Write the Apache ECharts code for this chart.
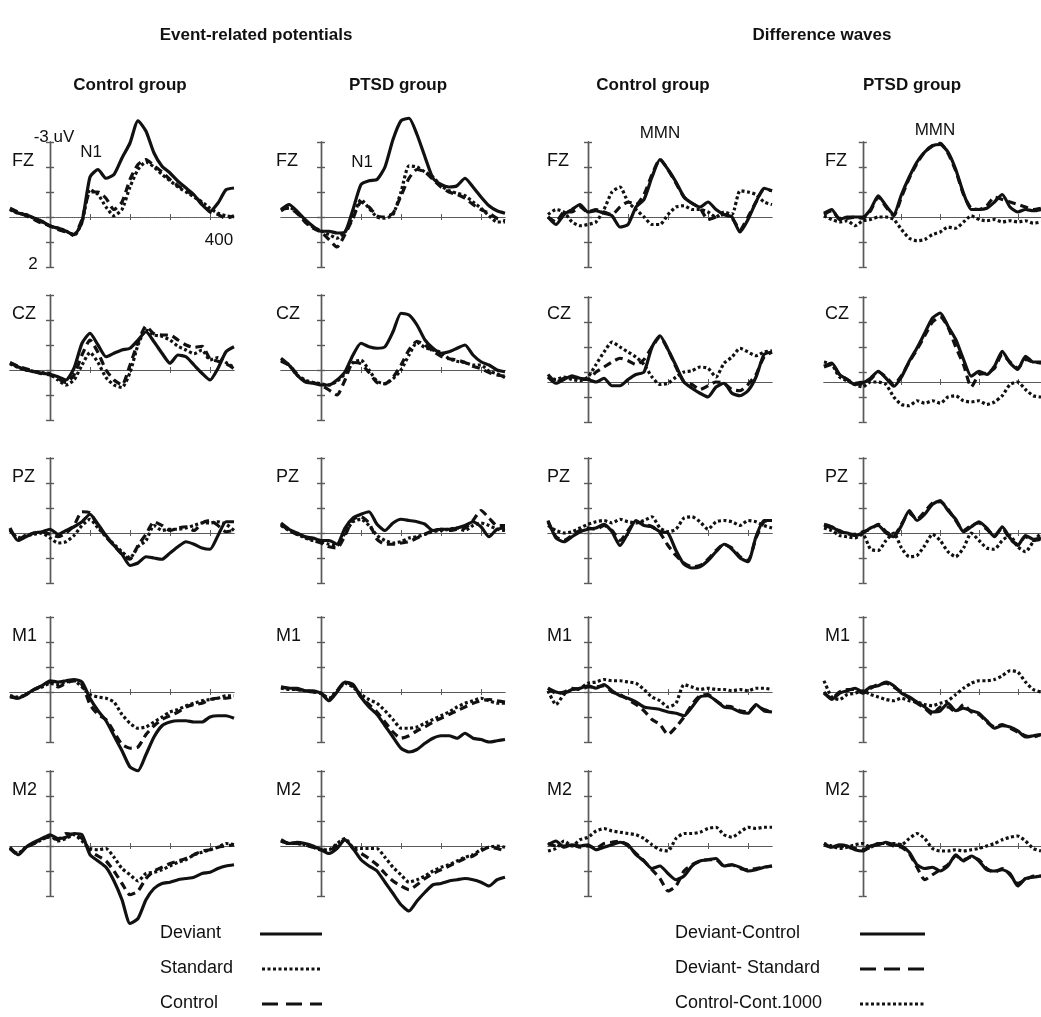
<!DOCTYPE html>
<html lang="en">
<head>
<meta charset="utf-8">
<title>Event-related potentials and difference waves</title>
<script src="https://cdn.jsdelivr.net/npm/echarts@6/dist/echarts.min.js"></script>
<style>
  body { margin: 0; background: #fff; }
  #main { width: 1041px; height: 1017px; }
</style>
</head>
<body>
<div id="main"></div>
<script>
  // time in ms, amplitude in uV (negative drawn upward)
  var times = [-100, -80, -60, -40, -20, 0, 20, 40, 60, 80, 100, 120, 140, 160, 180, 200, 220, 240, 260, 280, 300, 320, 340, 360, 380, 400, 420, 440, 460];

  // ---- Event-related potentials, control group ----
  var fzCtlDev = [-0.32, -0.16, -0.09, 0.04, 0.17, 0.37, 0.44, 0.57, 0.71, 0.2, -1.6, -1.9, -1.55, -1.7, -2.36, -2.96, -3.85, -3.43, -2.56, -2.03, -1.76, -1.43, -1.16, -0.89, -0.49, -0.23, -0.56, -1.09, -1.16];
  var fzCtlStd = [-0.3, -0.15, -0.1, 0.05, 0.2, 0.35, 0.45, 0.55, 0.75, 0.2, -1.1, -0.9, -0.4, -0.05, -0.3, -1.2, -1.9, -2.2, -2.0, -1.7, -1.45, -1.2, -1.0, -0.8, -0.6, -0.35, -0.15, -0.05, 0.0];
  var fzCtlCon = [-0.35, -0.2, -0.05, 0.1, 0.25, 0.35, 0.5, 0.6, 0.7, 0.1, -1.0, -1.0, -0.75, -0.3, -0.6, -1.5, -2.1, -2.3, -2.05, -1.8, -1.5, -1.25, -1.05, -0.85, -0.55, -0.2, -0.1, 0.05, -0.05];
  var czCtlDev = [-0.27, -0.13, 0.0, 0.07, 0.13, 0.17, 0.27, 0.4, -0.07, -1.07, -1.47, -1.0, -0.53, -0.67, -0.8, -0.87, -1.2, -1.53, -1.13, -0.67, -0.27, -0.6, -0.53, -0.2, 0.13, 0.4, -0.07, -0.73, -0.93];
  var czCtlStd = [-0.25, -0.1, 0.0, 0.05, 0.1, 0.15, 0.4, 0.6, 0.4, -0.2, -0.7, -0.3, 0.3, 0.6, 0.7, 0.1, -1.0, -1.6, -1.4, -1.35, -1.2, -0.95, -0.8, -0.65, -0.8, -0.4, -0.5, -0.3, -0.1];
  var czCtlCon = [-0.3, -0.15, -0.05, 0.05, 0.15, 0.2, 0.35, 0.5, 0.2, -0.6, -1.2, -0.7, 0.0, 0.4, 0.6, -0.2, -1.1, -1.75, -1.45, -1.4, -1.4, -1.2, -1.0, -0.9, -0.95, -0.45, -0.35, -0.25, -0.05];
  var pzCtlDev = [-0.2, 0.3, 0.15, 0.0, -0.05, -0.15, 0.05, -0.1, -0.25, -0.45, -0.75, -0.35, 0.1, 0.5, 0.85, 1.3, 1.2, 0.95, 1.0, 1.05, 0.8, 0.55, 0.35, 0.45, 0.6, 0.65, 0.1, -0.45, -0.45];
  var pzCtlStd = [-0.1, 0.2, 0.1, 0.05, 0.0, 0.2, 0.4, 0.35, 0.1, -0.3, -0.55, -0.2, 0.15, 0.45, 0.75, 1.0, 0.55, 0.3, -0.3, -0.1, -0.15, -0.15, -0.2, -0.3, -0.4, -0.4, -0.45, -0.35, -0.1];
  var pzCtlCon = [-0.15, 0.25, 0.1, 0.0, -0.05, 0.05, 0.15, 0.0, -0.3, -0.85, -0.8, -0.3, 0.15, 0.5, 0.85, 1.05, 0.5, 0.05, -0.45, -0.3, -0.1, -0.2, -0.25, -0.1, -0.4, -0.5, -0.3, -0.05, -0.1];
  var m1CtlDev = [0.15, 0.25, 0.1, -0.1, -0.25, -0.45, -0.4, -0.45, -0.5, -0.4, 0.25, 0.75, 1.15, 1.75, 2.35, 3.0, 3.15, 2.5, 1.8, 1.35, 1.2, 1.15, 1.15, 1.2, 1.2, 1.0, 0.95, 0.95, 1.05];
  var m1CtlStd = [0.15, 0.2, 0.1, -0.1, -0.2, -0.35, -0.3, -0.4, -0.45, -0.2, 0.1, 0.2, 0.25, 0.4, 0.9, 1.25, 1.45, 1.4, 1.2, 1.0, 0.8, 0.7, 0.55, 0.45, 0.35, 0.3, 0.25, 0.15, 0.15];
  var m1CtlCon = [0.2, 0.25, 0.1, -0.1, -0.25, -0.4, -0.2, -0.35, -0.45, -0.3, 0.5, 0.9, 1.1, 1.6, 2.1, 2.25, 2.2, 1.7, 1.35, 1.1, 0.95, 0.8, 0.6, 0.5, 0.45, 0.3, 0.25, 0.25, 0.2];
  var m2CtlDev = [0.05, 0.35, 0.05, -0.15, -0.3, -0.45, -0.3, -0.35, -0.5, -0.45, 0.35, 0.6, 0.85, 1.4, 2.15, 3.1, 2.9, 2.15, 1.7, 1.5, 1.45, 1.35, 1.3, 1.25, 1.1, 1.05, 0.9, 0.8, 0.75];
  var m2CtlStd = [0.1, 0.3, 0.05, -0.1, -0.25, -0.4, -0.2, -0.3, -0.45, -0.2, 0.1, 0.15, 0.1, 0.45, 0.9, 1.15, 1.4, 1.1, 1.05, 0.95, 0.8, 0.65, 0.55, 0.35, 0.25, 0.15, 0.05, -0.1, -0.05];
  var m2CtlCon = [0.1, 0.35, 0.05, -0.1, -0.3, -0.35, -0.25, -0.5, -0.45, -0.3, 0.2, 0.4, 0.6, 1.0, 1.5, 1.95, 1.8, 1.3, 1.0, 0.85, 0.7, 0.6, 0.5, 0.35, 0.2, 0.15, 0.05, 0.0, -0.05];

  // ---- Event-related potentials, PTSD group ----
  var fzPtsDev = [-0.3, -0.5, -0.23, 0.1, 0.37, 0.57, 0.57, 0.64, 0.6, -0.3, -1.3, -1.45, -1.5, -2.0, -3.1, -3.85, -3.95, -3.3, -2.4, -1.55, -1.3, -1.2, -1.25, -1.55, -1.2, -0.8, -0.45, -0.25, -0.15];
  var fzPtsStd = [-0.25, -0.4, -0.2, 0.15, 0.4, 0.55, 0.7, 0.85, 0.6, 0.0, -0.7, -0.35, 0.0, 0.05, -0.1, -1.0, -2.05, -2.0, -1.8, -1.6, -1.25, -1.05, -0.95, -0.85, -0.6, -0.35, -0.05, 0.2, 0.2];
  var fzPtsCon = [-0.3, -0.35, -0.15, 0.2, 0.45, 0.6, 0.9, 1.2, 0.7, 0.05, -0.6, -0.4, -0.05, 0.0, -0.15, -0.85, -1.55, -1.9, -1.8, -1.5, -1.2, -1.0, -0.9, -0.75, -0.5, -0.3, -0.15, 0.05, 0.15];
  var czPtsDev = [-0.47, -0.2, 0.2, 0.47, 0.53, 0.6, 0.6, 0.4, 0.07, -0.6, -1.07, -0.93, -0.87, -0.93, -1.53, -2.27, -2.2, -1.8, -1.2, -0.87, -0.67, -0.73, -0.87, -1.0, -0.6, -0.33, -0.2, 0.0, 0.07];
  var czPtsStd = [-0.4, -0.2, 0.2, 0.4, 0.5, 0.55, 0.6, 0.45, 0.15, -0.3, -0.4, 0.0, 0.45, 0.55, 0.35, 0.0, -0.6, -1.1, -0.9, -0.8, -0.7, -0.45, -0.35, -0.3, -0.2, -0.2, 0.05, 0.15, 0.3];
  var czPtsCon = [-0.35, -0.2, 0.15, 0.45, 0.5, 0.6, 0.8, 1.0, 0.4, -0.3, -0.25, 0.1, 0.5, 0.55, 0.3, -0.2, -0.8, -1.15, -1.0, -0.75, -0.55, -0.45, -0.4, -0.3, -0.15, -0.05, 0.1, 0.2, 0.25];
  var pzPtsDev = [-0.4, -0.15, 0.0, 0.15, 0.2, 0.3, 0.3, 0.45, -0.2, -0.6, -0.75, -0.85, -0.35, -0.1, -0.4, -0.55, -0.5, -0.45, -0.35, -0.1, -0.15, -0.15, -0.2, -0.3, -0.45, -0.25, 0.15, -0.15, -0.2];
  var pzPtsStd = [-0.3, -0.1, 0.05, 0.2, 0.3, 0.35, 0.45, 0.5, 0.0, -0.45, -0.55, -0.3, 0.1, 0.3, 0.4, 0.35, 0.2, 0.15, 0.05, -0.05, -0.1, -0.15, -0.2, -0.1, -0.3, -0.4, -0.3, -0.15, -0.1];
  var pzPtsCon = [-0.35, -0.1, 0.05, 0.15, 0.3, 0.4, 0.55, 0.6, 0.1, -0.55, -0.65, -0.4, 0.25, 0.45, 0.45, 0.4, 0.35, 0.2, 0.05, -0.1, -0.15, -0.1, -0.15, -0.2, -0.5, -0.9, -0.6, -0.3, -0.3];
  var m1PtsDev = [-0.2, -0.15, -0.15, -0.05, -0.05, 0.05, 0.35, 0.0, -0.4, -0.3, 0.2, 0.6, 0.9, 1.35, 1.8, 2.25, 2.4, 2.3, 2.05, 1.85, 1.75, 1.75, 1.85, 1.65, 1.85, 1.9, 2.0, 1.95, 1.9];
  var m1PtsStd = [-0.15, -0.1, -0.1, -0.05, 0.0, 0.05, 0.25, -0.05, -0.35, -0.2, 0.1, 0.3, 0.45, 0.75, 1.1, 1.45, 1.45, 1.4, 1.25, 1.1, 0.95, 0.8, 0.6, 0.45, 0.35, 0.25, 0.35, 0.45, 0.45];
  var m1PtsCon = [-0.2, -0.15, -0.1, -0.05, 0.0, 0.05, 0.3, -0.05, -0.4, -0.25, 0.2, 0.5, 0.8, 1.2, 1.6, 1.85, 1.75, 1.55, 1.4, 1.2, 1.05, 0.9, 0.75, 0.6, 0.45, 0.35, 0.3, 0.35, 0.4];
  var m2PtsDev = [-0.25, -0.1, -0.15, -0.1, 0.0, 0.15, 0.3, 0.1, -0.25, 0.1, 0.55, 0.8, 1.0, 1.45, 1.9, 2.35, 2.6, 2.2, 1.85, 1.55, 1.5, 1.4, 1.35, 1.3, 1.35, 1.45, 1.6, 1.35, 1.25];
  var m2PtsStd = [-0.2, -0.1, -0.1, -0.05, 0.05, 0.15, 0.15, -0.1, -0.3, 0.05, 0.1, 0.1, 0.1, 0.45, 0.85, 1.15, 1.45, 1.35, 1.2, 1.0, 0.85, 0.75, 0.6, 0.45, 0.35, 0.15, 0.05, 0.0, 0.05];
  var m2PtsCon = [-0.2, -0.1, -0.1, -0.05, 0.05, 0.15, 0.2, -0.05, -0.25, 0.1, 0.3, 0.5, 0.75, 1.1, 1.4, 1.6, 1.75, 1.55, 1.3, 1.1, 0.95, 0.8, 0.65, 0.5, 0.4, 0.2, 0.05, 0.1, 0.2];

  // ---- Difference waves, control group (DC = deviant-control, DS = deviant-standard, CC = control-cont.1000) ----
  var fzCtlDC = [0.0, 0.3, -0.1, -0.3, -0.5, -0.2, -0.25, -0.15, -0.05, 0.4, 0.3, -0.4, -0.7, -1.6, -2.3, -1.9, -1.4, -0.8, -0.55, -0.4, -0.6, -0.3, -0.1, 0.0, 0.6, 0.1, -0.6, -1.15, -1.05];
  var fzCtlDS = [0.0, 0.2, -0.2, -0.2, -0.4, -0.2, -0.3, -0.2, -0.1, -0.4, -0.6, -0.5, -0.9, -1.7, -2.3, -1.9, -1.35, -0.8, -0.55, -0.35, 0.1, 0.0, -0.1, 0.05, 0.5, 0.0, -0.6, -1.1, -1.05];
  var fzCtlCC = [-0.1, -0.3, -0.2, 0.2, 0.35, 0.3, 0.2, -0.3, -1.0, -1.2, -0.6, -0.3, 0.0, 0.3, 0.3, -0.1, -0.4, -0.45, -0.3, -0.3, -0.2, 0.0, -0.2, -0.1, -1.05, -1.0, -0.9, -0.6, -0.5];
  var czCtlDC = [-0.2, 0.05, -0.1, -0.25, -0.15, -0.1, 0.0, -0.15, 0.15, 0.15, -0.1, -0.3, -0.4, -1.4, -1.85, -1.3, -0.65, 0.0, 0.25, 0.45, 0.6, 0.2, 0.05, 0.45, 0.55, 0.35, -0.2, -1.1, -1.2];
  var czCtlDS = [-0.3, 0.0, -0.15, -0.2, -0.1, -0.1, -0.4, -0.6, -0.8, -0.95, -0.85, -0.7, -0.9, -1.4, -1.8, -1.3, -0.6, 0.0, 0.1, 0.3, 0.15, 0.0, 0.05, 0.3, 0.35, 0.1, -0.3, -1.0, -1.2];
  var czCtlCC = [-0.2, -0.1, -0.2, -0.1, -0.05, -0.2, -0.7, -1.2, -1.6, -1.4, -1.2, -1.0, -0.7, -0.2, 0.1, 0.05, -0.2, -0.4, -0.45, -0.6, -0.55, -0.2, -0.75, -1.0, -1.35, -1.2, -1.05, -1.2, -1.25];
  var pzCtlDC = [-0.5, 0.2, 0.35, 0.15, -0.05, -0.15, -0.2, -0.35, -0.05, 0.5, 0.0, -0.5, -0.3, -0.25, -0.05, 0.0, 0.7, 1.25, 1.4, 1.35, 1.1, 0.75, 0.45, 0.65, 1.0, 1.15, 0.15, -0.5, -0.5];
  var pzCtlDS = [-0.45, 0.15, 0.3, 0.1, -0.1, -0.2, -0.15, -0.3, -0.1, 0.3, -0.1, -0.45, -0.35, -0.25, 0.0, 0.5, 0.9, 1.2, 1.35, 1.3, 1.05, 0.7, 0.45, 0.6, 0.95, 1.1, 0.2, -0.45, -0.5];
  var pzCtlCC = [-0.3, -0.1, 0.0, -0.05, -0.2, -0.35, -0.45, -0.5, -0.4, -0.55, -0.45, -0.4, -0.5, -0.65, -0.2, -0.05, -0.15, -0.6, -0.65, -0.45, -0.15, -0.45, -0.5, -0.45, -0.3, -0.5, -0.45, -0.3, -0.2];
  var m1CtlDC = [-0.15, 0.0, 0.05, -0.1, -0.15, -0.25, -0.15, -0.3, -0.05, 0.15, 0.25, 0.4, 0.6, 0.65, 0.7, 0.8, 0.85, 0.95, 0.6, 0.2, 0.15, 0.35, 0.6, 0.65, 0.8, 0.85, 0.5, 0.75, 0.8];
  var m1CtlDS = [-0.15, 0.05, 0.0, -0.15, -0.1, -0.2, -0.2, -0.25, 0.0, 0.1, 0.3, 0.5, 0.75, 1.1, 1.3, 1.7, 1.4, 1.0, 0.5, 0.15, 0.1, 0.35, 0.55, 0.6, 0.75, 0.8, 0.55, 0.7, 0.8];
  var m1CtlCC = [-0.05, 0.5, 0.1, -0.1, -0.15, -0.35, -0.4, -0.5, -0.45, -0.45, -0.4, -0.35, -0.1, 0.2, 0.35, 0.6, 0.45, -0.3, -0.2, -0.1, -0.15, -0.1, -0.1, -0.05, -0.1, -0.05, -0.15, -0.15, -0.1];
  var m2CtlDC = [-0.05, -0.2, 0.05, -0.05, 0.0, -0.05, 0.15, 0.05, -0.05, -0.15, -0.05, 0.35, 0.6, 0.9, 0.8, 1.1, 1.35, 1.2, 0.8, 0.6, 0.55, 0.5, 0.8, 0.75, 0.85, 1.0, 0.95, 0.85, 0.8];
  var m2CtlDS = [-0.1, 0.0, 0.0, -0.05, 0.05, 0.0, 0.1, -0.1, -0.15, -0.2, 0.0, 0.3, 0.6, 0.95, 1.3, 1.8, 1.6, 1.0, 0.75, 0.6, 0.55, 0.55, 0.8, 0.75, 0.9, 0.95, 0.9, 0.85, 0.8];
  var m2CtlCC = [0.2, 0.1, -0.2, 0.0, -0.25, -0.35, -0.6, -0.7, -0.6, -0.55, -0.5, -0.45, -0.3, -0.05, 0.15, 0.2, -0.3, -0.5, -0.5, -0.55, -0.7, -0.75, -0.45, -0.35, -0.55, -0.75, -0.7, -0.75, -0.75];

  // ---- Difference waves, PTSD group ----
  var fzPtsDC = [-0.15, -0.3, 0.1, 0.0, 0.0, 0.0, -0.3, -0.85, -0.45, -0.1, -0.9, -1.6, -2.2, -2.6, -2.85, -2.9, -2.6, -1.9, -0.95, -0.3, -0.3, -0.35, -0.6, -0.9, -0.4, -0.2, -0.3, -0.25, -0.3];
  var fzPtsDS = [-0.1, -0.25, 0.05, 0.05, 0.0, 0.05, -0.25, -0.8, -0.4, -0.05, -0.8, -1.55, -2.15, -2.6, -2.85, -2.95, -2.55, -1.85, -0.9, -0.35, -0.3, -0.45, -0.8, -0.7, -0.6, -0.5, -0.4, -0.3, -0.35];
  var fzPtsCC = [-0.05, 0.1, 0.2, 0.15, 0.35, 0.15, 0.1, 0.0, 0.0, 0.1, 0.5, 0.85, 0.95, 0.9, 0.7, 0.6, 0.4, 0.45, 0.2, -0.05, 0.1, 0.15, 0.1, 0.2, 0.15, 0.2, 0.15, 0.25, 0.2];
  var czPtsDC = [-0.63, -0.76, -0.3, -0.1, 0.1, 0.04, -0.15, -0.43, -0.15, 0.17, -0.2, -0.83, -1.36, -1.96, -2.56, -2.76, -2.23, -1.7, -0.9, -0.23, -0.43, -0.3, -0.63, -1.23, -0.76, -0.5, -1.03, -0.8, -0.8];
  var czPtsDS = [-0.6, -0.7, -0.3, -0.1, 0.05, 0.0, -0.1, -0.4, -0.2, 0.1, -0.25, -0.8, -1.3, -1.85, -2.4, -2.6, -2.2, -1.4, -0.7, 0.2, -0.3, -0.35, -0.55, -1.1, -0.8, -0.55, -0.9, -0.8, -0.75];
  var czPtsCC = [-0.8, -0.7, -0.2, -0.05, 0.1, 0.2, 0.0, 0.0, 0.1, 0.6, 0.9, 0.95, 0.75, 0.85, 0.75, 0.85, 0.6, 0.55, 0.75, 0.8, 0.75, 0.9, 0.8, 0.55, 0.1, 0.0, 0.3, 0.55, 0.6];
  var pzPtsDC = [-0.35, -0.25, -0.05, 0.0, 0.1, 0.0, -0.2, -0.3, 0.0, 0.15, -0.3, -0.9, -0.5, -0.75, -1.15, -1.3, -0.9, -0.55, -0.05, -0.25, -0.45, -0.2, 0.15, -0.25, 0.2, 0.5, 0.1, 0.25, 0.2];
  var pzPtsDS = [-0.3, -0.2, -0.1, 0.05, 0.05, -0.05, -0.15, -0.35, -0.05, 0.1, -0.35, -0.8, -0.55, -0.85, -1.2, -1.25, -0.95, -0.5, -0.1, -0.3, -0.4, -0.15, 0.1, -0.2, 0.25, 0.45, 0.15, 0.3, 0.25];
  var pzPtsCC = [-0.2, -0.1, 0.1, 0.15, 0.2, 0.05, 0.65, 0.7, 0.3, 0.0, 0.6, 0.95, 0.9, 0.5, 0.05, 0.3, 0.75, 0.95, 0.6, 0.0, 0.3, 0.6, 0.65, 0.3, 0.1, 0.55, 0.75, 0.35, 0.0];
  var m1PtsDC = [0.0, 0.3, 0.05, -0.05, -0.15, 0.0, -0.2, -0.25, -0.4, -0.25, 0.05, 0.2, 0.4, 0.6, 0.8, 0.75, 0.45, 0.75, 0.65, 0.75, 0.85, 1.15, 1.45, 1.35, 1.4, 1.55, 1.8, 1.75, 1.7];
  var m1PtsDS = [0.05, 0.25, 0.0, -0.1, -0.1, 0.05, -0.15, -0.3, -0.35, -0.2, 0.0, 0.25, 0.45, 0.65, 0.9, 0.6, 0.6, 0.8, 0.5, 0.8, 0.9, 1.2, 1.4, 1.3, 1.45, 1.6, 1.75, 1.8, 1.7];
  var m1PtsCC = [-0.45, 0.2, 0.3, 0.1, 0.05, -0.05, 0.1, 0.2, 0.3, 0.35, 0.25, 0.35, 0.4, 0.5, 0.55, 0.45, 0.35, 0.1, -0.15, -0.35, -0.45, -0.45, -0.5, -0.65, -0.85, -0.8, -0.4, -0.1, 0.0];
  var m2PtsDC = [-0.05, 0.05, -0.05, 0.0, 0.15, 0.2, 0.0, -0.05, -0.15, -0.05, 0.0, 0.25, 0.75, 0.9, 0.85, 1.0, 0.8, 0.35, 0.6, 0.4, 0.6, 0.95, 1.0, 0.95, 1.1, 1.6, 1.3, 1.25, 1.2];
  var m2PtsDS = [-0.1, 0.05, 0.0, 0.05, 0.1, 0.15, 0.05, -0.1, -0.1, 0.0, 0.05, 0.3, 0.85, 1.35, 1.15, 0.95, 0.75, 0.4, 0.55, 0.45, 0.55, 0.9, 1.05, 0.9, 1.15, 1.5, 1.35, 1.2, 1.2];
  var m2PtsCC = [-0.1, 0.0, 0.1, 0.05, -0.05, -0.1, 0.05, -0.1, -0.1, -0.1, -0.05, -0.3, -0.5, -0.3, 0.1, 0.2, 0.2, 0.15, 0.2, 0.15, 0.1, 0.0, -0.1, -0.25, -0.35, -0.4, -0.2, 0.1, 0.2];

  var electrodes = ['FZ', 'CZ', 'PZ', 'M1', 'M2'];
  var colTitles = ['Control group', 'PTSD group', 'Control group', 'PTSD group'];
  var erpNames = ['Deviant', 'Standard', 'Control'];
  var diffNames = ['Deviant-Control', 'Deviant- Standard', 'Control-Cont.1000'];

  // [solid, dotted, dashed] for ERPs; [solid, dashed, dotted] for difference waves
  var panelData = [
    [[fzCtlDev, fzCtlStd, fzCtlCon], [fzPtsDev, fzPtsStd, fzPtsCon], [fzCtlDC, fzCtlDS, fzCtlCC], [fzPtsDC, fzPtsDS, fzPtsCC]],
    [[czCtlDev, czCtlStd, czCtlCon], [czPtsDev, czPtsStd, czPtsCon], [czCtlDC, czCtlDS, czCtlCC], [czPtsDC, czPtsDS, czPtsCC]],
    [[pzCtlDev, pzCtlStd, pzCtlCon], [pzPtsDev, pzPtsStd, pzPtsCon], [pzCtlDC, pzCtlDS, pzCtlCC], [pzPtsDC, pzPtsDS, pzPtsCC]],
    [[m1CtlDev, m1CtlStd, m1CtlCon], [m1PtsDev, m1PtsStd, m1PtsCon], [m1CtlDC, m1CtlDS, m1CtlCC], [m1PtsDC, m1PtsDS, m1PtsCC]],
    [[m2CtlDev, m2CtlStd, m2CtlCon], [m2PtsDev, m2PtsStd, m2PtsCon], [m2CtlDC, m2CtlDS, m2CtlCC], [m2PtsDC, m2PtsDS, m2PtsCC]]
  ];

  var DOT = [3, 2.5];
  var DASH = [8, 5];
  var INK = '#111';
  var AXIS = '#5a5a5a';
  var FONT = '"Liberation Sans", Arial, sans-serif';

  var colZero = [50, 321, 588, 864];   // x pixel of t = 0
  var rowTop = [142, 295, 458, 617, 771];
  var pxPerMs = 0.4;

  var grids = [], xAxes = [], yAxes = [], series = [], graphics = [];

  panelData.forEach(function (rowData, r) {
    rowData.forEach(function (lines, c) {
      var g = grids.length;
      // CZ difference panels sit with their baseline a bit lower than the tick at 0
      var shifted = (r === 1 && c >= 2);
      var yMin = shifted ? -3.4 : -3;
      var ticks = shifted ? [-3.4, -2.4, -1.4, -0.4, 0.6, 1.6] : [-3, -2, -1, 0, 1, 2];
      grids.push({
        left: colZero[c] - 100 * pxPerMs,
        top: rowTop[r] + (shifted ? 2 : 0),
        width: 560 * pxPerMs,
        height: 125
      });
      [false, true].forEach(function (inside) {
        xAxes.push({
          gridIndex: g, type: 'value', min: -100, max: 460, position: 'bottom',
          axisLine: { onZero: true, lineStyle: { color: AXIS, width: 1, type: (g === 0 ? 'dotted' : 'solid') } },
          axisTick: { show: true, inside: inside, length: 3, customValues: [100, 200, 300, 400], lineStyle: { color: AXIS } },
          axisLabel: { show: false }, splitLine: { show: false }
        });
        yAxes.push({
          gridIndex: g, type: 'value', inverse: true, min: yMin, max: yMin + 5, position: 'left',
          axisLine: { onZero: true, lineStyle: { color: AXIS, width: 1.4 } },
          axisTick: { show: true, inside: inside, length: 4, customValues: ticks, lineStyle: { color: AXIS, width: 1.4 } },
          axisLabel: { show: false }, splitLine: { show: false }
        });
      });
      var styles = c < 2 ? ['solid', DOT, DASH] : ['solid', DASH, DOT];
      [1, 2, 0].forEach(function (k) {
        series.push({
          type: 'line', xAxisIndex: 2 * g, yAxisIndex: 2 * g,
          data: times.map(function (t, j) { return [t, lines[k][j]]; }),
          symbol: 'none', showSymbol: false, smooth: 0.2, clip: false, silent: true,
          lineStyle: { color: INK, width: 3.2, type: styles[k], cap: 'butt' }
        });
      });
      graphics.push({
        type: 'text', x: [12, 276, 547, 825][c], y: rowTop[r] + 19,
        style: { text: electrodes[r], font: '18px ' + FONT, fill: INK, align: 'left', verticalAlign: 'middle' }
      });
    });
  });

  function txt(s, x, y, font, align) {
    graphics.push({ type: 'text', x: x, y: y, style: { text: s, font: font, fill: INK, align: align || 'center', verticalAlign: 'middle' } });
  }
  function seg(x1, x2, y, dash) {
    graphics.push({ type: 'line', shape: { x1: x1, y1: y, x2: x2, y2: y }, style: { stroke: INK, lineWidth: 3, lineDash: dash } });
  }

  txt('Event-related potentials', 256, 35, 'bold 17px ' + FONT);
  txt('Difference waves', 822, 35, 'bold 17px ' + FONT);
  [130, 398, 653, 912].forEach(function (x, i) { txt(colTitles[i], x, 85, 'bold 17px ' + FONT); });

  txt('-3 uV', 54, 137, '17px ' + FONT);
  txt('2', 33, 264, '17px ' + FONT);
  txt('400', 219, 240, '17px ' + FONT);
  txt('N1', 91, 152, '17px ' + FONT);
  txt('N1', 362, 162, '17px ' + FONT);
  txt('MMN', 660, 133, '17px ' + FONT);
  txt('MMN', 935, 130, '17px ' + FONT);

  var legY = [933, 968, 1003];
  var LF = '18px ' + FONT;
  txt(erpNames[0], 160, legY[0], LF, 'left'); seg(260, 322, legY[0] + 1, null);
  txt(erpNames[1], 160, legY[1], LF, 'left'); seg(262, 322, legY[1] + 1, DOT);
  txt(erpNames[2], 160, legY[2], LF, 'left'); seg(262, 322, legY[2] + 1, [16, 8]);
  txt(diffNames[0], 675, legY[0], LF, 'left'); seg(860, 925, legY[0] + 1, null);
  txt(diffNames[1], 675, legY[1], LF, 'left'); seg(860, 925, legY[1] + 1, [16, 8]);
  txt(diffNames[2], 675, legY[2], LF, 'left'); seg(860, 925, legY[2] + 1, DOT);

  var chart = echarts.init(document.getElementById('main'));
  chart.setOption({
    backgroundColor: '#fff',
    animation: false,
    grid: grids,
    xAxis: xAxes,
    yAxis: yAxes,
    series: series,
    graphic: graphics
  });
</script>
</body>
</html>
